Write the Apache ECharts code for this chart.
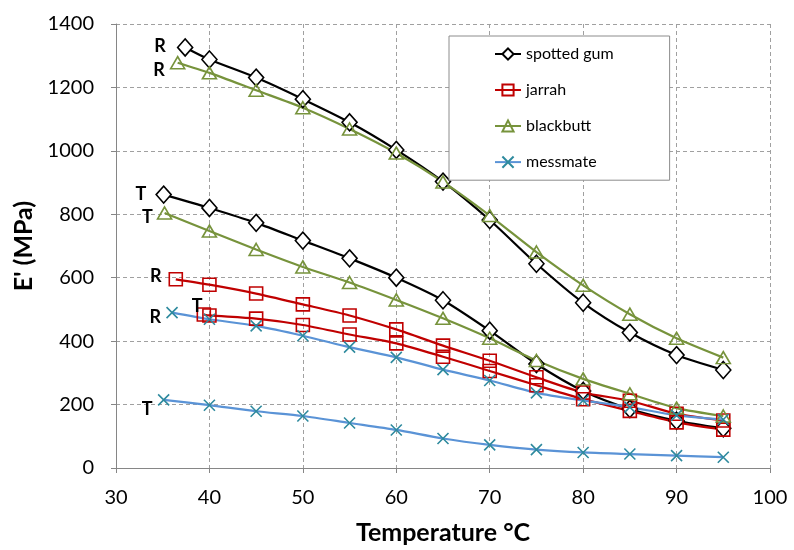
<!DOCTYPE html>
<html>
<head>
<meta charset="utf-8">
<script src="https://cdn.jsdelivr.net/npm/echarts@6/dist/echarts.min.js"></script>
<style>
  html, body { margin: 0; padding: 0; background: #fff; }
  #chart { width: 794px; height: 550px; }
</style>
</head>
<body>
<div id="chart"></div>
<script>
// common temperatures (°C), every series continues on these after its own first point
var temps = [40, 45, 50, 55, 60, 65, 70, 75, 80, 85, 90, 95];

// spotted gum
var spottedRStart = [37.4, 1326];
var spottedR = [1288, 1231, 1163, 1090, 1003, 903, 782, 644, 521, 427, 356, 309];
var spottedTStart = [35.1, 862];
var spottedT = [820, 773, 717, 661, 600, 529, 433, 328, 243, 186, 149, 125];

// jarrah
var jarrahRStart = [36.4, 595];
var jarrahR = [578, 550, 516, 481, 437, 386, 338, 286, 238, 212, 171, 150];
var jarrahTStart = [39.4, 484];
var jarrahT = [481, 471, 451, 421, 393, 351, 306, 261, 217, 180, 144, 121];

// blackbutt
var blackbuttRStart = [36.6, 1278];
var blackbuttR = [1246, 1191, 1136, 1069, 993, 902, 796, 681, 576, 485, 409, 348];
var blackbuttTStart = [35.2, 804];
var blackbuttT = [747, 689, 634, 585, 530, 472, 409, 339, 281, 234, 189, 164];

// messmate
var messmateRStart = [36.0, 490];
var messmateR = [469, 448, 417, 381, 349, 310, 276, 237, 213, 192, 166, 153];
var messmateTStart = [35.1, 215];
var messmateT = [198, 179, 164, 142, 120, 93, 73, 58, 49, 44, 39, 34];

var xTicks = [30, 40, 50, 60, 70, 80, 90, 100];
var yTicks = [0, 200, 400, 600, 800, 1000, 1200, 1400];

var FONT = 'Lato, "Open Sans", sans-serif';
var crossPath = 'path://M0,0L10,10M10,0L0,10';

function buildData(start, values, tag, labelOpt) {
  var first = {
    value: start,
    label: Object.assign({
      show: true,
      formatter: tag,
      position: 'left',
      distance: 6,
      color: '#000',
      fontFamily: FONT,
      fontWeight: 'bold',
      fontSize: 18
    }, labelOpt || {})
  };
  var data = [first];
  for (var i = 0; i < temps.length; i++) {
    data.push([temps[i], values[i]]);
  }
  return data;
}

function makeSeries(name, style, start, values, tag, labelOpt) {
  return {
    name: name,
    type: 'line',
    smooth: 0.25,
    symbol: style.symbol,
    symbolSize: style.size,
    showSymbol: true,
    lineStyle: { color: style.line, width: 2.2 },
    itemStyle: {
      color: style.fill,
      borderColor: style.marker,
      borderWidth: 1.6
    },
    emphasis: { disabled: true },
    data: buildData(start, values, tag, labelOpt)
  };
}

var styles = {
  spotted: { symbol: 'diamond', size: [15, 17], line: '#000000', marker: '#000000', fill: '#ffffff' },
  jarrah: { symbol: 'rect', size: 13, line: '#C00000', marker: '#C00000', fill: 'rgba(255,255,255,0)' },
  blackbutt: { symbol: 'triangle', size: [14, 12], line: '#77933C', marker: '#77933C', fill: 'rgba(255,255,255,0)' },
  messmate: { symbol: crossPath, size: 11, line: '#5A93D6', marker: '#2E8A9E', fill: 'none' }
};

var series = [
  makeSeries('spotted gum', styles.spotted, spottedRStart, spottedR, 'R', { offset: [-5, -1] }),
  makeSeries('spotted gum', styles.spotted, spottedTStart, spottedT, 'T', { offset: [-3, 0] }),
  makeSeries('jarrah', styles.jarrah, jarrahRStart, jarrahR, 'R', { offset: [-1, -3] }),
  makeSeries('jarrah', styles.jarrah, jarrahTStart, jarrahT, 'T', { offset: [12, -8] }),
  makeSeries('blackbutt', styles.blackbutt, blackbuttRStart, blackbuttR, 'R', { offset: [1, 7] }),
  makeSeries('blackbutt', styles.blackbutt, blackbuttTStart, blackbuttT, 'T', { offset: [2, 4] }),
  makeSeries('messmate', styles.messmate, messmateRStart, messmateR, 'R', { offset: [3, 5] }),
  makeSeries('messmate', styles.messmate, messmateTStart, messmateT, 'T', { offset: [3, 9] })
];

var chart = echarts.init(document.getElementById('chart'), null, { renderer: 'canvas' });

chart.setOption({
  animation: false,
  backgroundColor: '#ffffff',
  grid: { left: 116, right: 24, top: 24, bottom: 81 },
  legend: {
    data: ['spotted gum', 'jarrah', 'blackbutt', 'messmate'],
    orient: 'vertical',
    left: 449,
    top: 36,
    padding: [10, 56, 10, 45],
    itemGap: 20,
    itemWidth: 26,
    itemHeight: 14,
    backgroundColor: '#ffffff',
    borderColor: '#8c8c8c',
    borderWidth: 1,
    textStyle: { fontFamily: FONT, fontSize: 16, lineHeight: 16, color: '#000' }
  },
  xAxis: {
    type: 'value',
    min: xTicks[0],
    max: xTicks[xTicks.length - 1],
    interval: 10,
    name: 'Temperature °C',
    nameLocation: 'middle',
    nameGap: 52,
    nameTextStyle: { fontFamily: FONT, fontSize: 25, fontWeight: 'bold', color: '#000' },
    axisLine: { show: true, onZero: false, lineStyle: { color: '#868686', width: 1 } },
    axisTick: { show: true, length: 5, lineStyle: { color: '#868686' } },
    axisLabel: { fontFamily: FONT, fontSize: 20, color: '#000', margin: 20 },
    splitLine: { show: true, lineStyle: { color: '#a0a0a0', type: [4, 3], width: 1 } }
  },
  yAxis: {
    type: 'value',
    min: yTicks[0],
    max: yTicks[yTicks.length - 1],
    interval: 200,
    name: "E' (MPa)",
    nameLocation: 'middle',
    nameGap: 78,
    nameTextStyle: { fontFamily: FONT, fontSize: 25, fontWeight: 'bold', color: '#000' },
    axisLine: { show: true, lineStyle: { color: '#868686', width: 1 } },
    axisTick: { show: true, length: 5, lineStyle: { color: '#868686' } },
    axisLabel: {
      fontFamily: FONT, fontSize: 20, color: '#000', margin: 22,
      formatter: function (v) { return String(v); }
    },
    splitLine: { show: true, lineStyle: { color: '#a0a0a0', type: [4, 3], width: 1 } }
  },
  series: series
});
</script>
</body>
</html>
